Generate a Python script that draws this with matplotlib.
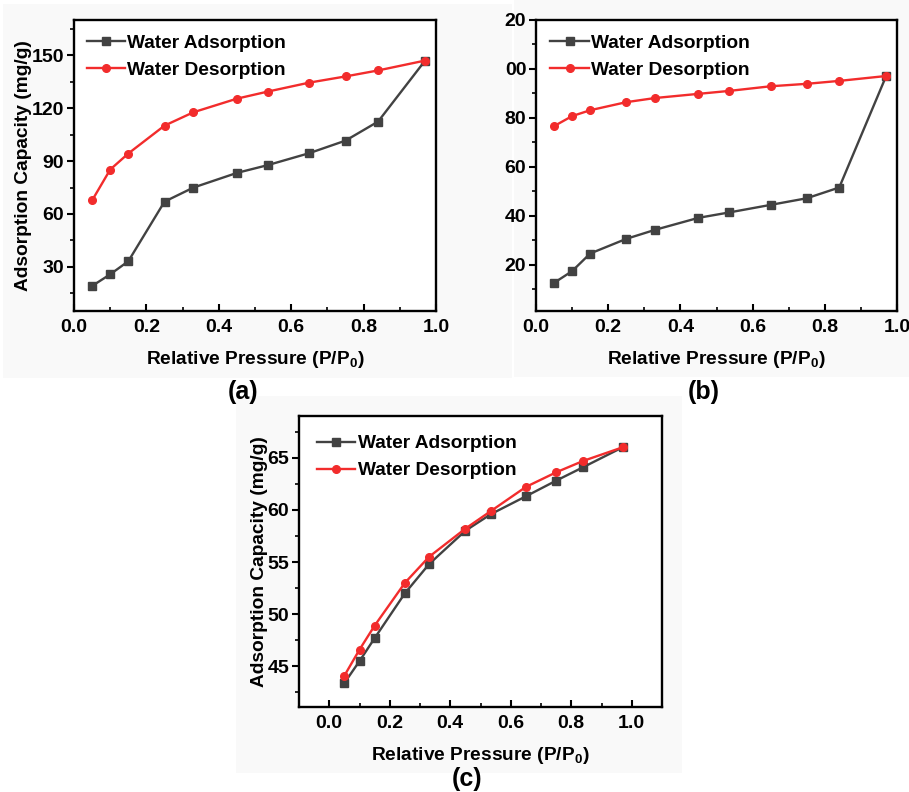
import matplotlib
matplotlib.use("Agg")
import matplotlib.pyplot as plt
from matplotlib.ticker import MultipleLocator, FixedLocator, FixedFormatter
from matplotlib.patches import Rectangle

plt.rcParams['font.family'] = ['Liberation Sans', 'DejaVu Sans']
plt.rcParams['font.weight'] = 'bold'
plt.rcParams['mathtext.fontset'] = 'custom'
plt.rcParams['mathtext.rm'] = 'Liberation Sans:bold'
plt.rcParams['mathtext.bf'] = 'Liberation Sans:bold'
plt.rcParams['mathtext.it'] = 'Liberation Sans:bold'

# ---- data ----
pressure = [0.05, 0.10, 0.15, 0.25, 0.33, 0.45, 0.535, 0.65, 0.75, 0.84, 0.97]

a_ads = [19.2, 25.8, 33.2, 67.0, 75.0, 83.3, 87.7, 94.5, 101.6, 112.4, 147.0]
a_des = [67.7, 85.2, 94.3, 110.1, 117.7, 125.4, 129.4, 134.5, 138.0, 141.4, 147.0]

b_ads = [12.5, 17.3, 24.5, 30.5, 34.2, 39.1, 41.3, 44.4, 47.1, 51.5, 97.1]
b_des = [76.6, 80.7, 83.1, 86.4, 88.1, 89.8, 91.0, 92.9, 93.9, 95.1, 97.1]

c_ads = [43.4, 45.5, 47.7, 52.0, 54.8, 58.0, 59.6, 61.3, 62.8, 64.1, 66.0]
c_des = [44.1, 46.6, 48.9, 53.0, 55.5, 58.2, 59.9, 62.2, 63.6, 64.7, 66.0]

x_ticks = [0.0, 0.2, 0.4, 0.6, 0.8, 1.0]
x_tick_labels = ["0.0", "0.2", "0.4", "0.6", "0.8", "1.0"]
a_yticks = [30, 60, 90, 120, 150]
a_yticklabels = ["30", "60", "90", "120", "150"]
b_yticks = [20, 40, 60, 80, 100, 120]
b_yticklabels = ["20", "40", "60", "80", "00", "20"]
c_yticks = [45, 50, 55, 60, 65]
c_yticklabels = ["45", "50", "55", "60", "65"]

series_labels = ["Water Adsorption", "Water Desorption"]
xlabel = "Relative Pressure (P/P$_{\\mathbf{0}}$)"
ylabel = "Adsorption Capacity (mg/g)"
panel_letters = ["(a)", "(b)", "(c)"]

ADS_COLOR = '#424242'
DES_COLOR = '#f22c2c'

W, H = 909, 792
fig = plt.figure(figsize=(W / 100, H / 100), dpi=100)
fig.patch.set_facecolor('white')


def px_axes(l, t, r, b):
    return fig.add_axes([l / W, 1 - b / H, (r - l) / W, (b - t) / H])


def bg(l, t, r, b, color='#f9f9f9'):
    fig.patches.append(Rectangle((l / W, 1 - b / H), (r - l) / W, (b - t) / H,
                                 transform=fig.transFigure, facecolor=color,
                                 edgecolor='none', zorder=-10))


bg(3, 4, 512, 378)
bg(514, 0, 909, 377)
bg(236, 396, 682, 773)


def style(ax, xlim, ylim, yticks, yticklabels, yminor, show_ylabel, leg_anchor):
    ax.plot(pressure, ads, color=ADS_COLOR, lw=1.7, marker='s', ms=5.5,
            label=series_labels[0])
    ax.plot(pressure, des, color=DES_COLOR, lw=1.7, marker='o', ms=5.5,
            label=series_labels[1])
    ax.set_xlim(*xlim)
    ax.set_ylim(*ylim)
    ax.xaxis.set_major_locator(FixedLocator(x_ticks))
    ax.xaxis.set_major_formatter(FixedFormatter(x_tick_labels))
    ax.xaxis.set_minor_locator(MultipleLocator(0.1))
    ax.yaxis.set_major_locator(FixedLocator(yticks))
    ax.yaxis.set_major_formatter(FixedFormatter(yticklabels))
    ax.yaxis.set_minor_locator(MultipleLocator(yminor))
    ax.tick_params(axis='x', which='major', direction='in', length=5, width=1.5,
                   labelsize=14, pad=6)
    ax.tick_params(axis='x', which='minor', direction='in', length=3, width=1.2)
    ax.tick_params(axis='y', which='major', direction='out', length=5, width=1.5,
                   labelsize=14, pad=2)
    ax.tick_params(axis='y', which='minor', direction='out', length=3, width=1.2)
    for s in ax.spines.values():
        s.set_linewidth(1.7)
    ax.set_xlabel(xlabel, fontsize=13.8, fontweight='bold', labelpad=9)
    if show_ylabel:
        ax.set_ylabel(ylabel, fontsize=13.8, fontweight='bold', labelpad=0,
                      family=['Liberation Sans Narrow', 'Liberation Sans'])
    ax.set_facecolor('white')
    ax.legend(loc='upper left', bbox_to_anchor=leg_anchor, frameon=False,
              prop={'size': 13.8, 'weight': 'bold'}, handlelength=2.0,
              handletextpad=0.12, labelspacing=0.5, borderpad=0, borderaxespad=0)


axa = px_axes(74, 20, 436, 311)
ads, des = a_ads, a_des
style(axa, (0, 1.0), (5, 170), a_yticks, a_yticklabels, 15, True, (0.035, 0.95))

axb = px_axes(536, 20, 897, 311)
ads, des = b_ads, b_des
style(axb, (0, 1.0), (1, 120), b_yticks, b_yticklabels, 10, False, (0.04, 0.95))

axc = px_axes(299, 416, 662, 707)
ads, des = c_ads, c_des
style(axc, (-0.1, 1.1), (41.1, 69), c_yticks, c_yticklabels, 2.5, True, (0.05, 0.935))

fig.text(243 / W, 1 - 392 / H, panel_letters[0], fontsize=18, fontweight='bold',
         ha='center', va='center')
fig.text(704 / W, 1 - 392 / H, panel_letters[1], fontsize=18, fontweight='bold',
         ha='center', va='center')
fig.text(467 / W, 1 - 779 / H, panel_letters[2], fontsize=18, fontweight='bold',
         ha='center', va='center')

fig.savefig('out.png', dpi=100)
